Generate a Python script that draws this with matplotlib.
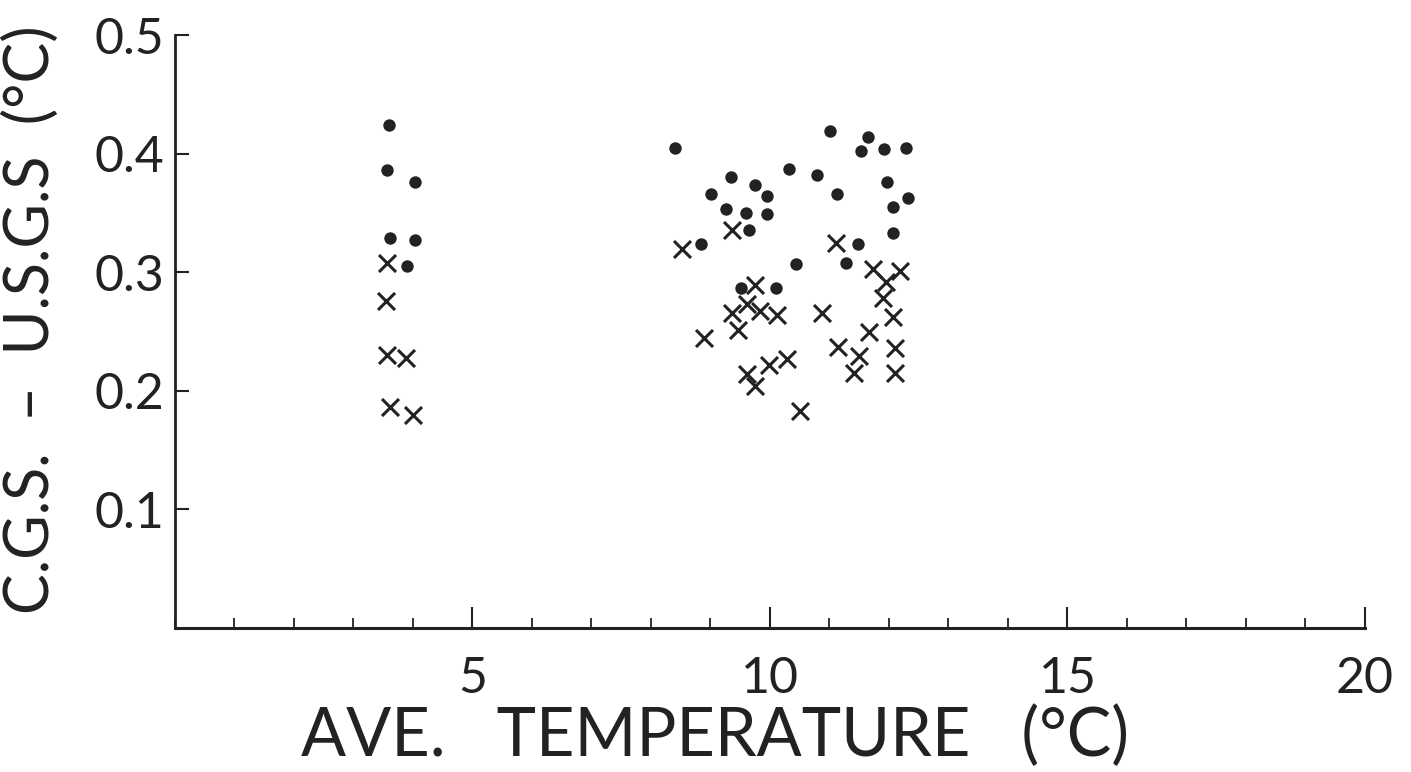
import matplotlib.pyplot as plt
from matplotlib.ticker import MultipleLocator

# readings for the cold-water group (~3.5-4 C)
dots_cold_x = [3.60, 3.56, 4.03, 3.61, 4.03, 3.90]
dots_cold_y = [0.424, 0.386, 0.376, 0.329, 0.327, 0.305]
cross_cold_x = [3.56, 3.55, 3.56, 3.88, 3.61, 4.00]
cross_cold_y = [0.308, 0.276, 0.230, 0.228, 0.186, 0.180]

# readings for the warm group (~8.5-12.5 C)
dots_warm_x = [8.40, 11.01, 10.32, 10.79, 9.34, 9.75, 9.01, 9.95, 11.13,
               9.26, 9.60, 9.95, 9.65, 8.84, 10.44, 11.28, 9.51, 10.10,
               11.65, 11.53, 11.92, 12.29, 11.97, 12.32, 12.07, 12.07, 11.48]
dots_warm_y = [0.405, 0.419, 0.387, 0.382, 0.380, 0.374, 0.366, 0.364, 0.366,
               0.353, 0.350, 0.349, 0.336, 0.324, 0.307, 0.308, 0.287, 0.287,
               0.414, 0.402, 0.404, 0.405, 0.376, 0.363, 0.355, 0.333, 0.324]
cross_warm_x = [8.52, 9.36, 11.11, 9.75, 9.61, 9.36, 9.83, 10.12, 10.87,
                8.89, 9.46, 11.14, 9.61, 9.98, 10.29, 9.75, 10.50, 11.73,
                12.18, 11.95, 11.90, 12.07, 11.66, 12.10, 11.50, 11.41, 12.10]
cross_warm_y = [0.320, 0.336, 0.325, 0.289, 0.273, 0.266, 0.267, 0.264, 0.266,
                0.245, 0.251, 0.237, 0.214, 0.222, 0.227, 0.204, 0.183, 0.303,
                0.301, 0.292, 0.278, 0.262, 0.250, 0.236, 0.229, 0.215, 0.215]

x_ticks = [5, 10, 15, 20]
y_ticks = [0.1, 0.2, 0.3, 0.4, 0.5]

plt.rcParams['font.family'] = ['Lato', 'DejaVu Sans']
ink = '#222222'

fig = plt.figure(figsize=(14.11, 7.72), dpi=100)
ax = fig.add_axes([0.124, 0.1865, 0.8434, 0.768])

ax.scatter(dots_cold_x + dots_warm_x, dots_cold_y + dots_warm_y,
           s=80, color=ink, marker='o', linewidths=0)
ax.scatter(cross_cold_x + cross_warm_x, cross_cold_y + cross_warm_y,
           s=150, color=ink, marker='x', linewidths=2.2)

ax.set_xlim(0, 20)
ax.set_ylim(0, 0.5)
ax.spines['top'].set_visible(False)
ax.spines['right'].set_visible(False)
ax.spines['left'].set_linewidth(2)
ax.spines['bottom'].set_linewidth(2.2)
ax.spines['left'].set_color(ink)
ax.spines['bottom'].set_color(ink)

ax.set_xticks(x_ticks)
ax.set_xticklabels([str(t) for t in x_ticks])
ax.xaxis.set_minor_locator(MultipleLocator(1))
ax.set_yticks(y_ticks)
ax.set_yticklabels([f"{t:.1f}" for t in y_ticks])

ax.tick_params(axis='x', which='major', direction='in', length=15, width=1.5,
               color=ink, labelsize=36, pad=20, labelcolor=ink)
ax.tick_params(axis='x', which='minor', direction='in', length=7, width=1.3,
               color=ink)
ax.tick_params(axis='y', which='major', direction='in', length=10, width=1.5,
               color=ink, labelsize=36, pad=8, labelcolor=ink)

ax.set_xlabel("AVE.   TEMPERATURE   (°C)", fontsize=48, color=ink)
ax.xaxis.set_label_coords(0.454, -0.13)
ax.set_ylabel("C.G.S.  –  U.S.G.S  (°C)", fontsize=44, color=ink)
ax.yaxis.set_label_coords(-0.097, 0.52)

fig.savefig("out.png", dpi=100, facecolor='white')
